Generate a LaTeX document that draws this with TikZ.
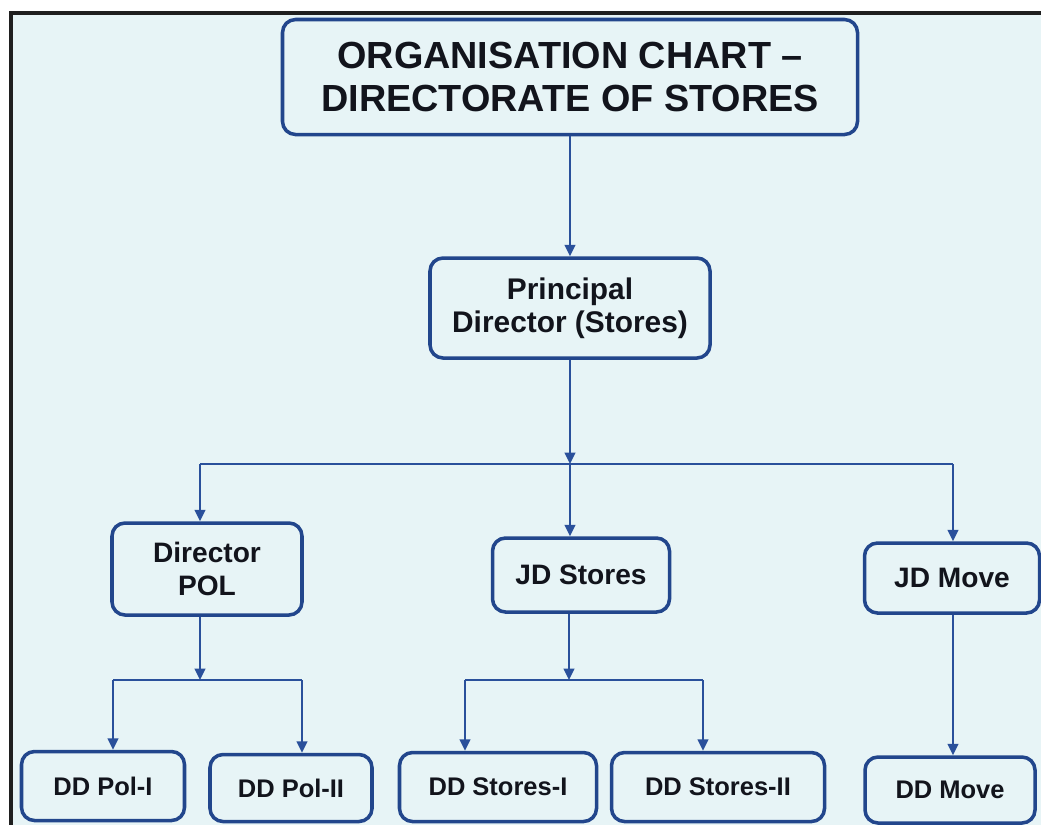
\documentclass[tikz,border=0pt]{standalone}
\usepackage{fontspec}
\setmainfont{Liberation Sans}
\usepackage{tikz}
\usetikzlibrary{shapes,arrows,arrows.meta,positioning}
\definecolor{boxblue}{RGB}{34,70,140}
\definecolor{lineblue}{RGB}{42,80,155}
\definecolor{paleblue}{RGB}{231,244,246}
\definecolor{ink}{RGB}{18,20,28}

\begin{document}
\begin{tikzpicture}[node distance=1cm, every node/.style={text=ink, align=center},
  orgbox/.style={rectangle, rounded corners=0.26cm, draw=boxblue, line width=2pt, fill=paleblue},
  link/.style={lineblue, line width=1.3pt, >={Triangle[length=6.5pt,width=6pt]}}]
\clip (0,0) rectangle (20.82,-16.5);
\fill[white] (0,0) rectangle (20.82,-16.5);
\fill[paleblue] (0.26,-0.3) rectangle (20.82,-16.5);
\fill[black!88] (0.18,-0.22) rectangle (20.82,-0.3);
\fill[black!88] (0.18,-0.22) rectangle (0.26,-16.5);

\node (title) [orgbox, minimum width=11.5cm, minimum height=2.3cm, font=\bfseries\fontsize{21.5}{24.6}\selectfont] at (11.4,-1.54) {ORGANISATION CHART \textendash\\DIRECTORATE OF STORES};
\node (principal) [orgbox, minimum width=5.6cm, minimum height=2cm, below of=title, node distance=4.62cm, font=\bfseries\fontsize{17}{18.9}\selectfont] {Principal\\Director (Stores)};
\node (jdstores) [orgbox, minimum width=3.54cm, minimum height=1.48cm, below of=principal, node distance=5.34cm, xshift=0.22cm, font=\bfseries\fontsize{16}{18.7}\selectfont] {JD Stores};
\node (dirpol) [orgbox, minimum width=3.8cm, minimum height=1.84cm, left of=jdstores, node distance=7.48cm, yshift=0.12cm, font=\bfseries\fontsize{16}{18.7}\selectfont] {Director\\POL};
\node (jdmove) [orgbox, minimum width=3.5cm, minimum height=1.4cm, right of=jdstores, node distance=7.42cm, yshift=-0.06cm, font=\bfseries\fontsize{16}{18.7}\selectfont] {JD Move};

\node (ddpolone) [orgbox, minimum width=3.26cm, minimum height=1.38cm, below of=dirpol, node distance=4.34cm, xshift=-2.08cm, font=\bfseries\fontsize{14.5}{17}\selectfont] {DD Pol-I};
\node (ddpoltwo) [orgbox, minimum width=3.24cm, minimum height=1.34cm, right of=ddpolone, node distance=3.76cm, yshift=-0.04cm, font=\bfseries\fontsize{14.5}{17}\selectfont] {DD Pol-II};
\node (ddstoresone) [orgbox, minimum width=3.94cm, minimum height=1.38cm, below of=jdstores, node distance=4.24cm, xshift=-1.66cm, font=\bfseries\fontsize{14.5}{17}\selectfont] {DD Stores-I};
\node (ddstorestwo) [orgbox, minimum width=4.26cm, minimum height=1.38cm, right of=ddstoresone, node distance=4.4cm, font=\bfseries\fontsize{14.5}{17}\selectfont] {DD Stores-II};
\node (ddmove) [orgbox, minimum width=3.4cm, minimum height=1.32cm, below of=jdmove, node distance=4.24cm, xshift=-0.04cm, font=\bfseries\fontsize{14.5}{17}\selectfont] {DD Move};

% branch points
\coordinate (hub) at (11.4,-9.28);
\coordinate (mainL) at (4.0,-9.28);
\coordinate (mainR) at (19.06,-9.28);
\coordinate (polhub) at (4.0,-13.6);
\coordinate (polL) at (2.26,-13.6);
\coordinate (polR) at (6.04,-13.6);
\coordinate (storeshub) at (11.38,-13.6);
\coordinate (storesL) at (9.3,-13.6);
\coordinate (storesR) at (14.06,-13.6);

\draw [link, ->] (title.south -| principal) -- (principal);
\draw [link, ->] (principal) -- (hub);
\draw [link] (mainL) -- (mainR);
\draw [link, ->] (mainL) -- (mainL |- dirpol.north);
\draw [link, ->] (hub) -- (hub |- jdstores.north);
\draw [link, ->] (mainR) -- (mainR |- jdmove.north);

\draw [link, ->] (dirpol.south -| polhub) -- (polhub);
\draw [link] (polL) -- (polR);
\draw [link, ->] (polL) -- (polL |- ddpolone.north);
\draw [link, ->] (polR) -- (polR |- ddpoltwo.north);

\draw [link, ->] (jdstores.south -| storeshub) -- (storeshub);
\draw [link] (storesL) -- (storesR);
\draw [link, ->] (storesL) -- (storesL |- ddstoresone.north);
\draw [link, ->] (storesR) -- (storesR |- ddstorestwo.north);

\draw [link, ->] (jdmove.south -| mainR) -- (mainR |- ddmove.north);
\end{tikzpicture}
\end{document}
